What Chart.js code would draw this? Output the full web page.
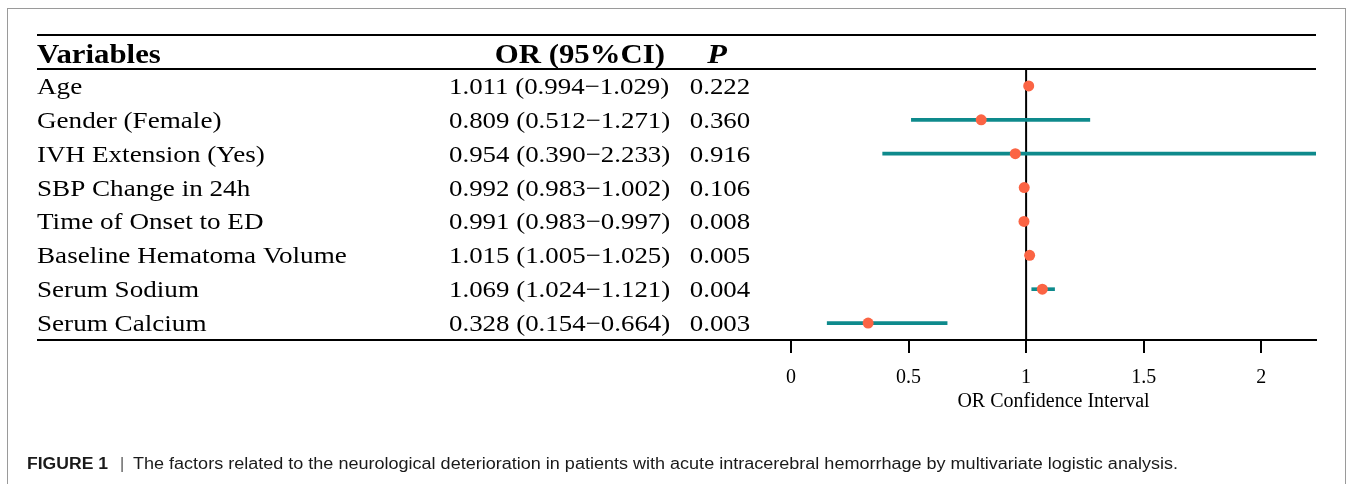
<!DOCTYPE html>
<html>
<head>
<meta charset="utf-8">
<script src="https://cdn.jsdelivr.net/npm/chart.js@4.4.1/dist/chart.umd.min.js"></script>
<style>
  html, body { margin: 0; padding: 0; background: #fff; }
  #wrap { position: relative; width: 1347px; height: 484px; }
  canvas { position: absolute; left: 0; top: 0; }
</style>
</head>
<body>
<div id="wrap"><canvas id="c" width="1347" height="484"></canvas></div>
<script>
// ---- data ----
const categories = ['Age', 'Gender (Female)', 'IVH Extension (Yes)', 'SBP Change in 24h',
  'Time of Onset to ED', 'Baseline Hematoma Volume', 'Serum Sodium', 'Serum Calcium'];
const orValues = [1.011, 0.809, 0.954, 0.992, 0.991, 1.015, 1.069, 0.328];
const ciLower  = [0.994, 0.512, 0.390, 0.983, 0.983, 1.005, 1.024, 0.154];
const ciUpper  = [1.029, 1.271, 2.233, 1.002, 0.997, 1.025, 1.121, 0.664];
const pValues  = ['0.222', '0.360', '0.916', '0.106', '0.008', '0.005', '0.004', '0.003'];
const xTickStep = 0.5;
const headers = ['Variables', 'OR (95%CI)', 'P'];
const axisTitle = 'OR Confidence Interval';
const captionLabel = 'FIGURE 1';
const captionText = 'The factors related to the neurological deterioration in patients with acute intracerebral hemorrhage by multivariate logistic analysis.';

const SERIF = '"Liberation Serif", "Times New Roman", serif';
const SANS = '"Liberation Sans", Arial, sans-serif';

function stretchText(ctx, text, x, y, align, sx) {
  ctx.save();
  ctx.translate(x, y);
  ctx.scale(sx, 1);
  ctx.textAlign = align;
  ctx.fillText(text, 0, 0);
  ctx.restore();
}

const tablePlugin = {
  id: 'tablePlugin',
  beforeDatasetsDraw(chart) {
    const { ctx, chartArea, scales } = chart;
    const x1 = scales.x.getPixelForValue(1);
    ctx.save();
    ctx.strokeStyle = '#000';
    ctx.lineWidth = 2;
    ctx.beginPath();
    ctx.moveTo(x1, chartArea.top);
    ctx.lineTo(x1, chartArea.bottom);
    ctx.stroke();
    ctx.restore();
  },
  afterDraw(chart) {
    const { ctx, chartArea, scales } = chart;
    const left = 37, right = chartArea.right;
    ctx.save();
    // frame
    ctx.strokeStyle = '#9a9a9a';
    ctx.lineWidth = 1;
    ctx.strokeRect(7.5, 8.5, 1338, 520);
    // table rules
    ctx.strokeStyle = '#000';
    ctx.lineWidth = 2;
    [35, chartArea.top, chartArea.bottom].forEach(y => {
      ctx.beginPath();
      ctx.moveTo(left, y);
      ctx.lineTo(right, y);
      ctx.stroke();
    });
    // headers
    ctx.fillStyle = '#000';
    ctx.textBaseline = 'alphabetic';
    ctx.font = 'bold 28px ' + SERIF;
    stretchText(ctx, headers[0], left, 63, 'left', 1.1);
    stretchText(ctx, headers[1], 665, 63, 'right', 1.1);
    ctx.font = 'italic bold 28px ' + SERIF;
    stretchText(ctx, headers[2], 717, 63, 'center', 1.15);
    // rows
    ctx.font = '24px ' + SERIF;
    categories.forEach((cat, i) => {
      const y = scales.y.getPixelForValue(i) + 8;
      stretchText(ctx, cat, left, y, 'left', 1.13);
      const orTxt = orValues[i].toFixed(3) + ' (' + ciLower[i].toFixed(3) + '\u2212' + ciUpper[i].toFixed(3) + ')';
      stretchText(ctx, orTxt, 449, y, 'left', 1.12);
      stretchText(ctx, pValues[i], 720, y, 'center', 1.12);
    });
    // caption
    ctx.fillStyle = '#1a1a1a';
    ctx.font = 'bold 16px ' + SANS;
    ctx.textAlign = 'left';
    const capY = 469;
    const lw = ctx.measureText(captionLabel).width;
    stretchText(ctx, captionLabel, 27, capY, 'left', 81 / lw);
    ctx.font = '16px ' + SANS;
    ctx.fillStyle = '#555';
    ctx.fillText('|', 120, capY);
    ctx.fillStyle = '#1a1a1a';
    const tw = ctx.measureText(captionText).width;
    stretchText(ctx, captionText, 133, capY, 'left', 1045 / tw);
    ctx.restore();
  }
};

const ctx = document.getElementById('c').getContext('2d');
new Chart(ctx, {
  type: 'bar',
  data: {
    labels: categories,
    datasets: [
      {
        type: 'scatter',
        data: orValues.map((v, i) => ({ x: v, y: categories[i] })),
        backgroundColor: '#FB6444',
        borderColor: '#FB6444',
        borderWidth: 0,
        pointRadius: 5.5,
        pointHoverRadius: 5.5,
        order: 0
      },
      {
        type: 'bar',
        data: ciLower.map((lo, i) => [lo, ciUpper[i]]),
        backgroundColor: '#0E8A8C',
        borderWidth: 0,
        barThickness: 3,
        order: 1
      }
    ]
  },
  options: {
    indexAxis: 'y',
    responsive: false,
    animation: false,
    layout: { padding: { left: 791, right: 31, top: 69, bottom: 0 } },
    plugins: { legend: { display: false }, tooltip: { enabled: false } },
    scales: {
      x: {
        type: 'linear',
        min: 0,
        max: Math.max(...ciUpper),
        ticks: {
          stepSize: xTickStep,
          includeBounds: false,
          color: '#000',
          padding: 13,
          font: { family: SERIF, size: 20 },
          callback: v => String(Math.round(v * 10) / 10)
        },
        grid: { drawOnChartArea: false, drawTicks: true, tickLength: 13, color: '#000', lineWidth: 2 },
        border: { color: '#000', width: 2 },
        title: {
          display: true,
          text: axisTitle,
          color: '#000',
          font: { family: SERIF, size: 20 },
          padding: { top: 0, bottom: 70 }
        },
        afterFit: s => { s.height = 144; }
      },
      y: { type: 'category', display: false, offset: true }
    }
  },
  plugins: [tablePlugin]
});
</script>
</body>
</html>
